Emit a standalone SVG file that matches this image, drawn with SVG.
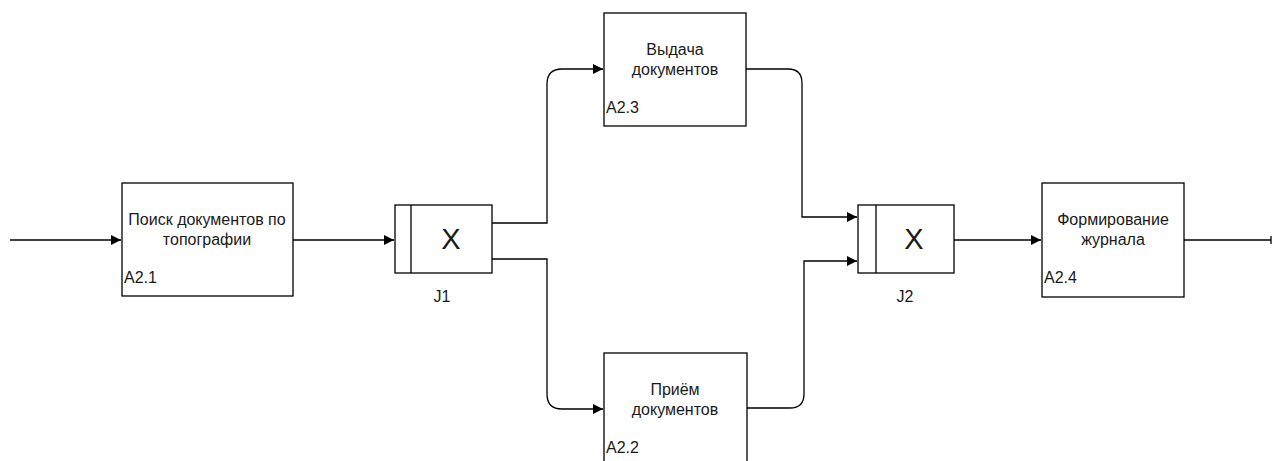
<svg xmlns="http://www.w3.org/2000/svg" width="1273" height="461" viewBox="0 0 1273 461">
  <style>
    .box { fill: #ffffff; stroke: #000000; stroke-width: 1.3; }
    .lbl { font-family: "Liberation Sans", Arial, sans-serif; font-size: 16px; fill: #1a1a1a; text-anchor: middle; }
    .code { font-family: "Liberation Sans", Arial, sans-serif; font-size: 16px; fill: #1a1a1a; }
    .xs { font-family: "Liberation Sans", Arial, sans-serif; font-size: 29px; fill: #1a1a1a; text-anchor: middle; }
    .wire { fill: none; stroke: #000000; stroke-width: 1.3; }
  </style>
  <defs>
    <marker id="arr" markerWidth="12" markerHeight="12" refX="10" refY="6" orient="auto" markerUnits="userSpaceOnUse">
      <path d="M0,1 L10,6 L0,11 Z" fill="#000000"/>
    </marker>
    <marker id="bar" markerWidth="4" markerHeight="10" refX="2" refY="5" orient="auto" markerUnits="userSpaceOnUse">
      <path d="M2,1 L2,9" stroke="#000000" stroke-width="1.3"/>
    </marker>
  </defs>
  <rect width="1273" height="461" fill="#ffffff"/>

  <g id="connectors">
    <path class="wire" d="M10,240 H121" marker-end="url(#arr)"/>
    <path class="wire" d="M293,240 H394" marker-end="url(#arr)"/>
    <path class="wire" d="M492,223 H547 V84 Q547,69 562,69 H603" marker-end="url(#arr)"/>
    <path class="wire" d="M492,259 H547 V394 Q547,409 562,409 H603" marker-end="url(#arr)"/>
    <path class="wire" d="M746,69 H788 Q802,69 802,83 V217 H857" marker-end="url(#arr)"/>
    <path class="wire" d="M747,408 H790 Q804,408 804,394 V261 H857" marker-end="url(#arr)"/>
    <path class="wire" d="M954,240 H1041" marker-end="url(#arr)"/>
    <path class="wire" d="M1184,240 H1271" marker-end="url(#bar)"/>
  </g>

  <g id="a21">
    <rect class="box" x="122" y="183" width="171" height="113"/>
    <text class="lbl" x="207" y="225">Поиск документов по</text>
    <text class="lbl" x="207" y="245">топографии</text>
    <text class="code" x="124" y="283">A2.1</text>
  </g>

  <g id="j1">
    <rect class="box" x="395" y="205" width="97" height="68"/>
    <line class="wire" x1="411" y1="205" x2="411" y2="273"/>
    <text class="xs" x="451" y="249">X</text>
    <text class="lbl" x="442" y="302">J1</text>
  </g>

  <g id="a23">
    <rect class="box" x="604" y="13" width="142" height="113"/>
    <text class="lbl" x="675" y="55">Выдача</text>
    <text class="lbl" x="675" y="75">документов</text>
    <text class="code" x="606" y="113">A2.3</text>
  </g>

  <g id="a22">
    <rect class="box" x="604" y="353" width="143" height="113"/>
    <text class="lbl" x="675" y="395">Приём</text>
    <text class="lbl" x="675" y="415">документов</text>
    <text class="code" x="606" y="453">A2.2</text>
  </g>

  <g id="j2">
    <rect class="box" x="858" y="205" width="96" height="68"/>
    <line class="wire" x1="876" y1="205" x2="876" y2="273"/>
    <text class="xs" x="914" y="249">X</text>
    <text class="lbl" x="905" y="302">J2</text>
  </g>

  <g id="a24">
    <rect class="box" x="1042" y="183" width="142" height="114"/>
    <text class="lbl" x="1113" y="225">Формирование</text>
    <text class="lbl" x="1113" y="245">журнала</text>
    <text class="code" x="1044" y="283">A2.4</text>
  </g>
</svg>
